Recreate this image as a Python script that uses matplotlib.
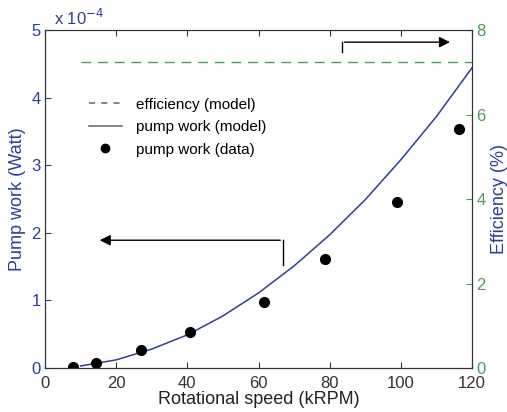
import numpy as np
import matplotlib.pyplot as plt
from matplotlib.lines import Line2D

plt.rcParams['font.family'] = ['Liberation Sans', 'DejaVu Sans']

# measured pump work (units of 1e-4 W)
speed_data = np.array([7.9, 14.3, 26.9, 40.7, 61.5, 78.7, 98.9, 116.3])
work_data = np.array([0.02, 0.08, 0.27, 0.53, 0.98, 1.61, 2.46, 3.54])

# model curve
speed_model = np.array([10, 20, 30, 40, 50, 60, 70, 80, 90, 100, 110, 120])
work_model = np.array([0.03, 0.12, 0.28, 0.49, 0.77, 1.11, 1.51, 1.97, 2.49, 3.08, 3.72, 4.44])

# efficiency model (%)
speed_eff = np.array([10, 120])
eff_model = np.array([7.24, 7.24])

blue = '#2e3d96'
green = '#4f9a55'
gray = '#666666'

fig = plt.figure(figsize=(5.07, 4.12), dpi=100)
ax = fig.add_axes([45/507, 44/412, 427/507, 338/412])
ax2 = ax.twinx()

ax.plot(speed_model, work_model, color=blue, lw=1.1)
ax.plot(speed_data, work_data, 'o', color='black', ms=7)
ax2.plot(speed_eff, eff_model, '--', color=green, lw=1.0, dashes=(7, 5))

ax.set_xlim(0, 120)
ax.set_ylim(0, 5)
ax2.set_ylim(0, 8)
ax.set_xticks(np.arange(0, 121, 20))
ax.set_yticks(np.arange(0, 6, 1))
ax2.set_yticks(np.arange(0, 9, 2))

ax.tick_params(axis='x', direction='in', top=True, labelsize=12, colors='#333333', length=4, pad=6)
ax.tick_params(axis='y', direction='in', labelsize=12, colors=blue, length=4, pad=3)
ax2.tick_params(axis='y', direction='in', labelsize=12, colors=green, length=4, pad=3)
for a in (ax, ax2):
    for s in a.spines.values():
        s.set_color('#333333')

ax.set_xlabel('Rotational speed (kRPM)', fontsize=13, color='#222222', labelpad=0)
ax.set_ylabel('Pump work (Watt)', fontsize=13, color=blue, labelpad=4)
ax2.set_ylabel('Efficiency (%)', fontsize=13, color=blue, labelpad=4)

ax.text(0.022, 1.005, r'x 10$^{-4}$', transform=ax.transAxes, fontsize=12,
        color=blue, ha='left', va='bottom')

# arrows pointing to the axis each curve belongs to
ax.plot([66.9, 66.9], [1.52, 1.89], color='black', lw=1)
ax.annotate('', xy=(14.6, 1.89), xytext=(66.9, 1.89),
            arrowprops=dict(arrowstyle='-|>', color='black', lw=1, mutation_scale=16))
ax.plot([83.4, 83.4], [4.67, 4.82], color='black', lw=1)
ax.annotate('', xy=(114.6, 4.82), xytext=(83.4, 4.82),
            arrowprops=dict(arrowstyle='-|>', color='black', lw=1, mutation_scale=16))

handles = [
    Line2D([], [], color=gray, ls='--', lw=1.1, dashes=(4, 4)),
    Line2D([], [], color=gray, ls='-', lw=1.1),
    Line2D([], [], color='black', marker='o', ls='none', ms=6),
]
labels = ['efficiency (model)', 'pump work (model)', 'pump work (data)']
ax.legend(handles, labels, loc='upper left', bbox_to_anchor=(0.07, 0.84),
          frameon=False, fontsize=11, handlelength=2.2, labelspacing=0.55,
          handletextpad=0.9)

fig.savefig('out.png', dpi=100)
